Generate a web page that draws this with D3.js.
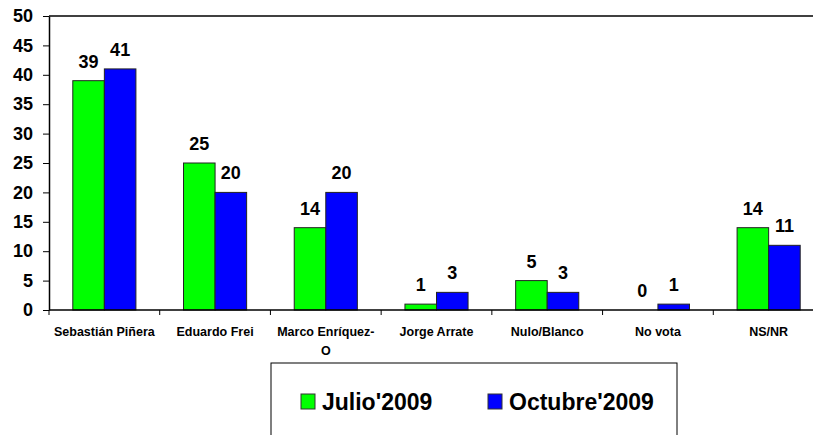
<!DOCTYPE html>
<html>
<head>
<meta charset="utf-8">
<script src="https://cdnjs.cloudflare.com/ajax/libs/d3/7.8.5/d3.min.js"></script>
<style>
  body { margin: 0; background: #fff; }
  svg { display: block; font-family: "Liberation Sans", Arial, sans-serif; }
</style>
</head>
<body>
<svg id="chart" width="813" height="435"></svg>
<script>
var categories = ["Sebastián Piñera", "Eduardo Frei", "Marco Enríquez-O", "Jorge Arrate", "Nulo/Blanco", "No vota", "NS/NR"];
var julio = [39, 25, 14, 1, 5, 0, 14];
var octubre = [41, 20, 20, 3, 3, 1, 11];
var seriesNames = ["Julio'2009", "Octubre'2009"];
var yTicks = [0, 5, 10, 15, 20, 25, 30, 35, 40, 45, 50];

var svg = d3.select("#chart"),
    margin = {top: 16, left: 49},
    plotRight = 824,
    plotBottom = 310;

var colors = ["#00ff00", "#0000ff"];

var x = d3.scaleBand()
    .domain(categories)
    .range([margin.left, plotRight])
    .paddingInner(0.43)
    .paddingOuter(0.215);

var x1 = d3.scaleBand()
    .domain(seriesNames)
    .range([0, x.bandwidth()]);

var y = d3.scaleLinear()
    .domain([0, 50])
    .range([plotBottom, margin.top]);

var data = categories.map(function(c, i) {
  return {cat: c, values: [julio[i], octubre[i]]};
});

// top border
svg.append("line")
    .attr("x1", margin.left).attr("x2", 813)
    .attr("y1", margin.top).attr("y2", margin.top)
    .attr("stroke", "#000").attr("stroke-width", 1.5);

// bars
var groups = svg.selectAll(".grp")
    .data(data)
  .enter().append("g")
    .attr("class", "grp")
    .attr("transform", function(d) { return "translate(" + x(d.cat) + ",0)"; });

groups.selectAll("rect")
    .data(function(d) { return d.values.map(function(v, i) { return {s: seriesNames[i], v: v, i: i}; }); })
  .enter().append("rect")
    .attr("x", function(d) { return x1(d.s); })
    .attr("y", function(d) { return y(d.v); })
    .attr("width", x1.bandwidth())
    .attr("height", function(d) { return y(0) - y(d.v); })
    .attr("fill", function(d) { return colors[d.i]; })
    .attr("stroke", "#222")
    .attr("stroke-width", 1)
    .style("display", function(d) { return d.v === 0 ? "none" : null; });

groups.selectAll("text")
    .data(function(d) { return d.values.map(function(v, i) { return {s: seriesNames[i], v: v}; }); })
  .enter().append("text")
    .attr("x", function(d) { return x1(d.s) + x1.bandwidth() / 2; })
    .attr("y", function(d) { return y(d.v) - 13; })
    .attr("text-anchor", "middle")
    .attr("font-size", "18px")
    .attr("font-weight", "bold")
    .text(function(d) { return d.v; });

// y axis
var yAxis = svg.append("g")
    .attr("transform", "translate(" + margin.left + ",0)")
    .call(d3.axisLeft(y).tickValues(yTicks).tickSize(6).tickPadding(10).tickSizeOuter(0));
yAxis.select(".domain").attr("stroke", "#000").attr("stroke-width", 1.5);
yAxis.selectAll(".tick line").attr("stroke", "#000");
yAxis.selectAll("text")
    .attr("font-size", "18px")
    .attr("font-weight", "bold")
    .attr("font-family", "'Liberation Sans', Arial, sans-serif")
    .attr("fill", "#000");

// x axis with ticks at band boundaries
var xAxis = svg.append("g")
    .attr("transform", "translate(0," + plotBottom + ")");
xAxis.append("line")
    .attr("x1", margin.left).attr("x2", 813)
    .attr("stroke", "#000").attr("stroke-width", 1.5);
var step = x.step();
xAxis.selectAll(".bt")
    .data(categories)
  .enter().append("line")
    .attr("class", "bt")
    .attr("x1", function(d) { return x(d) - x.paddingOuter() * step; })
    .attr("x2", function(d) { return x(d) - x.paddingOuter() * step; })
    .attr("y1", 0).attr("y2", 5)
    .attr("stroke", "#000");

var catLabels = xAxis.selectAll(".cl")
    .data(categories)
  .enter().append("text")
    .attr("class", "cl")
    .attr("x", function(d) { return x(d) + x.bandwidth() / 2; })
    .attr("y", 26)
    .attr("text-anchor", "middle")
    .attr("font-size", "12.5px")
    .attr("font-weight", "bold");
catLabels.each(function(d) {
  var t = d3.select(this);
  if (d === "Marco Enríquez-O") {
    t.append("tspan").attr("x", x(d) + x.bandwidth() / 2).text("Marco Enríquez-");
    t.append("tspan").attr("x", x(d) + x.bandwidth() / 2).attr("dy", 19).text("O");
  } else {
    t.text(d);
  }
});

// legend
var legend = svg.append("g");
legend.append("rect")
    .attr("x", 271).attr("y", 363)
    .attr("width", 406).attr("height", 90)
    .attr("fill", "#fff").attr("stroke", "#000").attr("stroke-width", 1);

var legX = [301, 488];
seriesNames.forEach(function(s, i) {
  legend.append("rect")
      .attr("x", legX[i]).attr("y", 394)
      .attr("width", 14).attr("height", 15)
      .attr("fill", colors[i]).attr("stroke", "#333");
  legend.append("text")
      .attr("x", legX[i] + 21).attr("y", 410)
      .attr("font-size", "23px")
      .attr("font-weight", "bold")
      .text(s);
});
</script>
</body>
</html>
